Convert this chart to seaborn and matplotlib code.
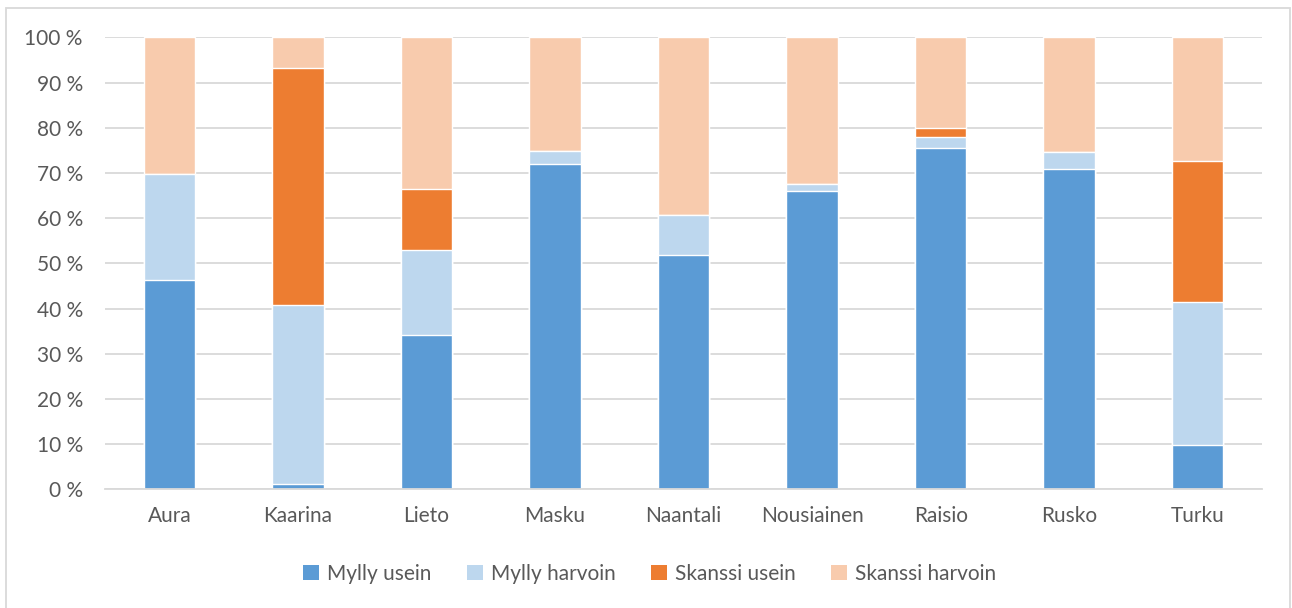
import numpy as np
import pandas as pd
import seaborn as sns
import matplotlib
matplotlib.use("Agg")
import matplotlib.pyplot as plt
from matplotlib.patches import Patch, Rectangle

# Municipalities and the share (%) of answers in each category
municipalities = ["Aura", "Kaarina", "Lieto", "Masku", "Naantali",
                  "Nousiainen", "Raisio", "Rusko", "Turku"]
mylly_usein = [46.3, 1.1, 34.1, 72.0, 51.8, 66.0, 75.5, 70.9, 9.7]
mylly_harvoin = [23.4, 39.6, 18.9, 2.9, 8.9, 1.6, 2.4, 3.8, 31.7]
skanssi_usein = [0.0, 52.5, 13.4, 0.0, 0.0, 0.0, 2.1, 0.0, 31.2]
skanssi_harvoin = [30.3, 6.8, 33.6, 25.1, 39.3, 32.4, 20.0, 25.3, 27.4]

series_names = ["Mylly usein", "Mylly harvoin", "Skanssi usein", "Skanssi harvoin"]
series_colors = ["#5B9BD5", "#BDD7EE", "#ED7D31", "#F8CBAD"]
y_ticks = list(range(0, 101, 10))
y_tick_labels = [f"{t} %" for t in y_ticks]

sns.set_theme(style="white")
plt.rcParams["font.family"] = ["Lato", "DejaVu Sans"]
text_color = "#595959"
grid_color = "#D9D9D9"

df = pd.DataFrame({
    "kunta": municipalities,
    series_names[0]: mylly_usein,
    series_names[1]: mylly_harvoin,
    series_names[2]: skanssi_usein,
    series_names[3]: skanssi_harvoin,
})
# cumulative tops of each stacked segment
cum = df[series_names].cumsum(axis=1)

fig = plt.figure(figsize=(12.92, 6.08), dpi=100)
ax = fig.add_axes([0.0813, 0.1952, 0.8955, 0.7434])

# draw the stacks from the top segment down so lower segments cover upper ones
for name, color in reversed(list(zip(series_names, series_colors))):
    sns.barplot(x=df["kunta"], y=cum[name], color=color, width=0.4,
                saturation=1, ax=ax, zorder=3)

ax.set_ylim(0, 100)
ax.set_xlim(-0.5, len(municipalities) - 0.5)
ax.set_yticks(y_ticks)
ax.set_yticklabels(y_tick_labels)
ax.set_xlabel("")
ax.set_ylabel("")
ax.yaxis.grid(True, color=grid_color, linewidth=1.3, zorder=0)
ax.set_axisbelow(True)
for side in ["top", "right", "left"]:
    ax.spines[side].set_visible(False)
ax.spines["bottom"].set_color(grid_color)
ax.spines["bottom"].set_linewidth(1.3)
ax.spines["bottom"].set_zorder(4)
ax.tick_params(axis="y", length=0, pad=16, labelsize=15, labelcolor=text_color)
ax.tick_params(axis="x", length=0, pad=12, labelsize=15, labelcolor=text_color)

handles = [Patch(facecolor=c, edgecolor="none", label=n)
           for n, c in zip(series_names, series_colors)]
fig.legend(handles=handles, loc="center", bbox_to_anchor=(0.503, 0.056),
           ncol=4, frameon=False, fontsize=15, labelcolor=text_color,
           handlelength=0.75, handleheight=0.75, handletextpad=0.4,
           columnspacing=1.7)

# light border around the chart area (open at the bottom edge of the image)
fig.patches.append(Rectangle((6 / 1292, -10 / 608), 1284 / 1292, 610 / 608,
                             transform=fig.transFigure, fill=False,
                             edgecolor=grid_color, linewidth=1.3))

fig.savefig("out.png", dpi=100, facecolor="white")
